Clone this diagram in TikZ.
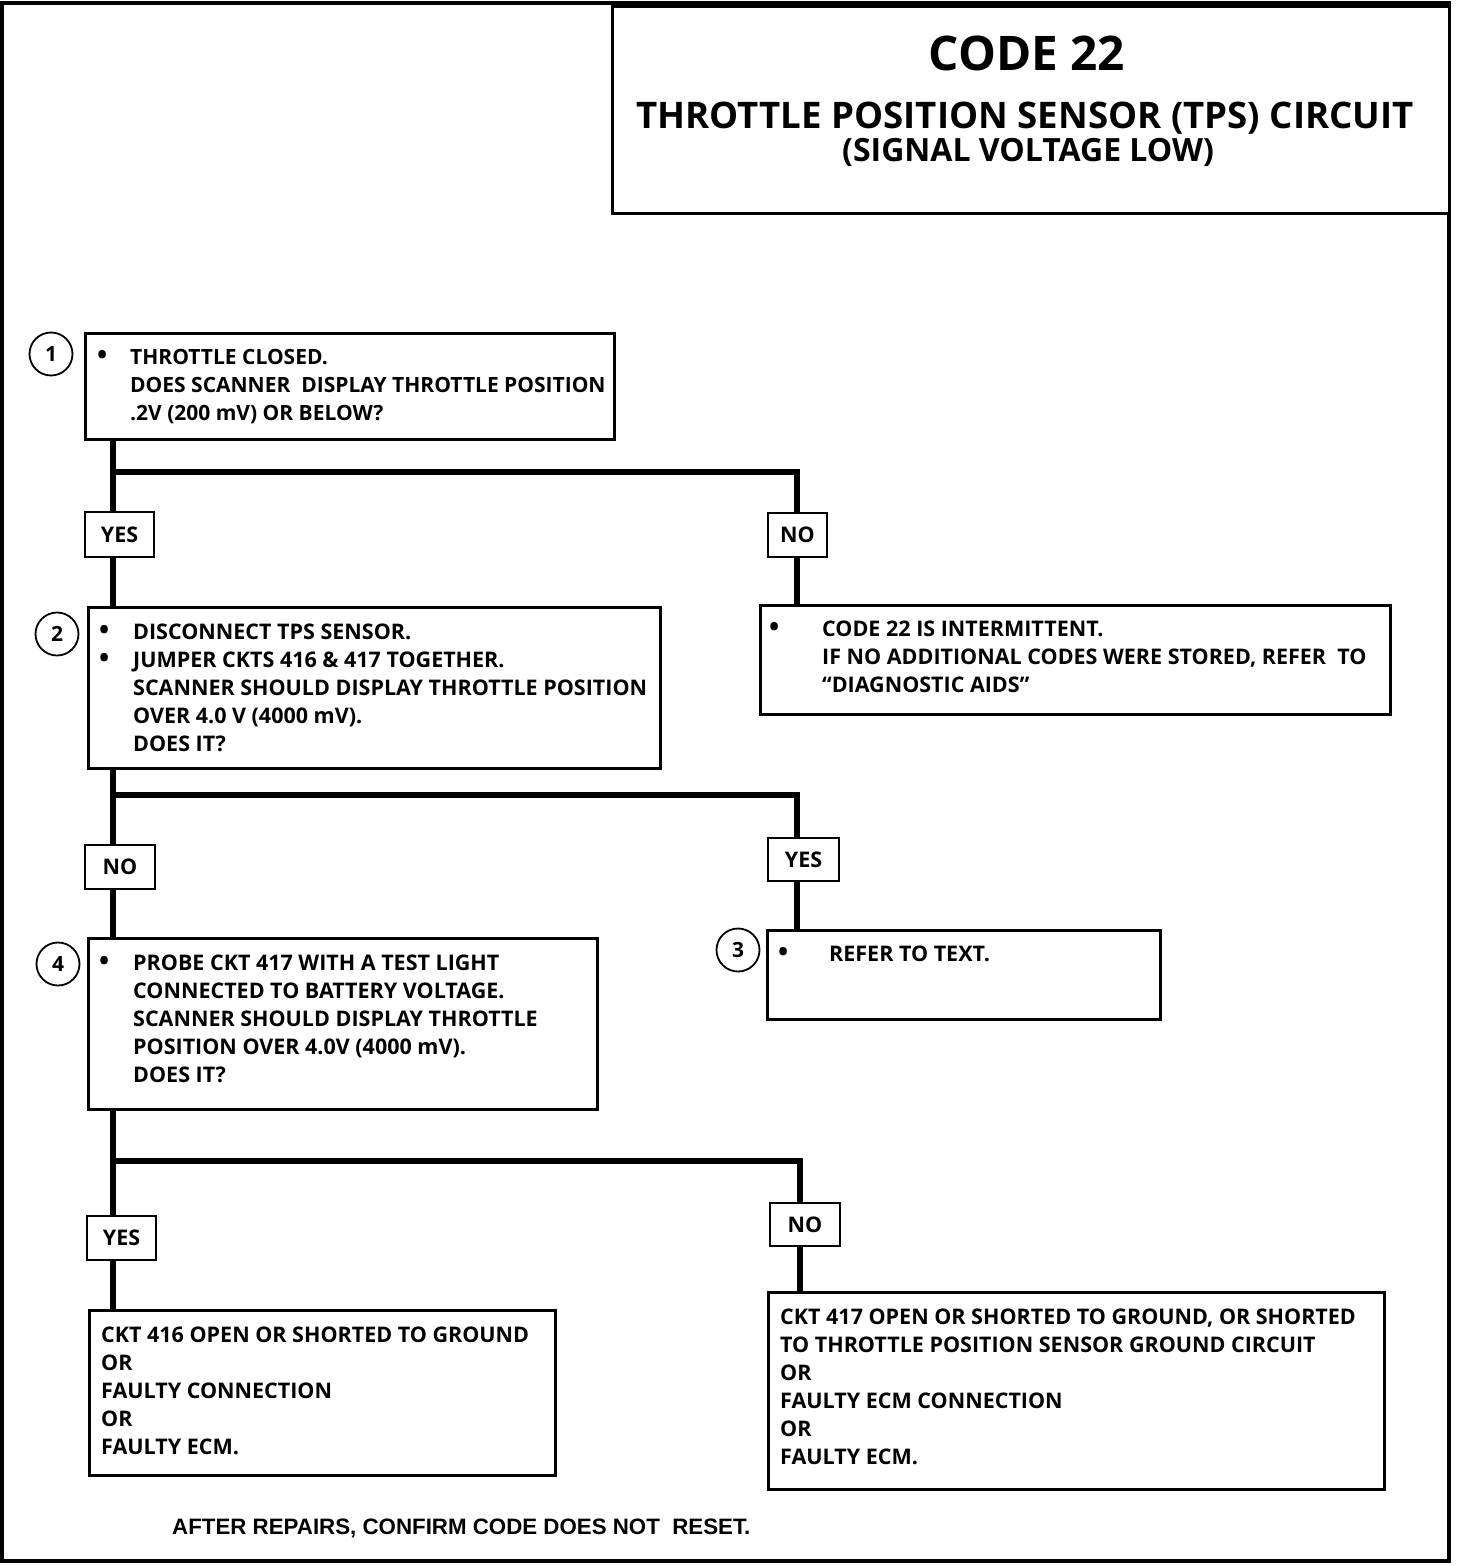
\documentclass[tikz,border=0pt]{standalone}
\usepackage{fontspec}
\setmainfont{Open Sans}
\newfontfamily\footfont{Liberation Sans}
\newcommand\bul{\raisebox{0pt}{\fontsize{27}{28}\selectfont •}}
\begin{document}
\begin{tikzpicture}[x=1pt,y=-1pt,
  box/.style={draw, line width=2pt, fill=white, inner sep=0pt, anchor=north west},
  lbl/.style={draw, line width=2pt, fill=white, inner sep=0pt, font=\bfseries\fontsize{21.5}{24}\selectfont},
  conn/.style={line width=6pt},
  num/.style={circle, draw, line width=1.8pt, minimum size=43pt, inner sep=0pt, font=\bfseries\fontsize{21}{22}\selectfont},
  txt/.style={inner sep=0pt, anchor=west, align=left, font=\bfseries\fontsize{21.5}{28}\selectfont},
  ttl/.style={inner sep=0pt, anchor=base, font=\bfseries}
]
\useasboundingbox (0,0) rectangle (1472,1566);
\fill[white] (0,0) rectangle (1472,1566);
% frame and title
\draw[line width=4pt] (2,3) rectangle (1449,1561);
\node[box, line width=2.5pt, minimum width=837pt, minimum height=207pt] (tb) at (611,5) {};
\node[ttl, font=\bfseries\fontsize{47.7}{50}\selectfont] (tcode) at (1027,70) {CODE 22};
\node[ttl, font=\bfseries\fontsize{36.6}{40}\selectfont] (ttitle) at (1025,128) {THROTTLE POSITION SENSOR (TPS) CIRCUIT};
\node[ttl, font=\bfseries\fontsize{32}{34}\selectfont] (tsub) at (1028,161) {(SIGNAL VOLTAGE LOW)};

% coordinates of branches
\coordinate (j1) at (113,472); \coordinate (k1) at (797,472);
\coordinate (j2) at (113,795); \coordinate (k2) at (797,795);
\coordinate (j3) at (113,1161); \coordinate (k3) at (800,1161);

% boxes (positions)
\node[box, minimum width=528pt, minimum height=105pt] (b1) at (85,333) {};
\node[box, minimum width=571pt, minimum height=160pt] (b2) at (88,607) {};
\node[box, minimum width=629pt, minimum height=108pt] (r1) at (760,605) {};
\node[box, minimum width=508pt, minimum height=170pt] (b4) at (88,938) {};
\node[box, minimum width=392pt, minimum height=88pt] (b3) at (767,930) {};
\node[box, minimum width=465pt, minimum height=164pt] (b5) at (89,1310) {};
\node[box, minimum width=615pt, minimum height=196pt] (b6) at (768,1292) {};

% connectors
\draw[conn] (b1.south -| j1) -- (b2.north -| j1);
\draw[conn] (j1) -- (k1) -- (r1.north -| k1);
\draw[conn] (b2.south -| j2) -- (b4.north -| j2);
\draw[conn] (j2) -- (k2) -- (b3.north -| k2);
\draw[conn] (b4.south -| j3) -- (b5.north -| j3);
\draw[conn] (j3) -- (k3) -- (b6.north -| k3);

% redraw box borders on top of connector ends
\foreach \n in {b1,b2,r1,b4,b3,b5,b6} {\draw[line width=2pt] (\n.north west) rectangle (\n.south east);}

% labels
\node[lbl, minimum width=69pt, minimum height=45pt] (yes1) at (119.5,534.5) {YES};
\node[lbl, minimum width=59pt, minimum height=44pt] (no1) at (797.5,535) {NO};
\node[lbl, minimum width=70pt, minimum height=44pt] (no2) at (120,867) {NO};
\node[lbl, minimum width=71pt, minimum height=43pt] (yes2) at (803.5,859.5) {YES};
\node[lbl, minimum width=69pt, minimum height=44pt] (yes3) at (121.5,1238) {YES};
\node[lbl, minimum width=70pt, minimum height=43pt] (no3) at (805,1224.5) {NO};

% step numbers
\node[num] (c1) at (51,354) {1};
\node[num] (c2) at (57,634) {2};
\node[num] (c3) at (738,950) {3};
\node[num] (c4) at (58,964) {4};

% texts
\node[txt, font=\bfseries\fontsize{21}{28}\selectfont] (t1) at (97,387) {\begin{tabular}{@{}p{33pt}@{}l@{}}
\bul & THROTTLE CLOSED.\\
  & DOES SCANNER\ \ DISPLAY THROTTLE POSITION\\
  & .2V (200 mV) OR BELOW?
\end{tabular}};
\node[txt] (t2) at (99,690) {\begin{tabular}{@{}p{34pt}@{}l@{}}
\bul & DISCONNECT TPS SENSOR.\\
\bul & JUMPER CKTS 416 \& 417 TOGETHER.\\
  & SCANNER SHOULD DISPLAY THROTTLE POSITION\\
  & OVER 4.0 V (4000 mV).\\
  & DOES IT?
\end{tabular}};
\node[txt] (tr1) at (769,659) {\begin{tabular}{@{}p{53pt}@{}l@{}}
\bul & CODE 22 IS INTERMITTENT.\\
  & IF NO ADDITIONAL CODES WERE STORED, REFER\ \ TO\\
  & “DIAGNOSTIC AIDS”
\end{tabular}};
\node[txt] (t3) at (778,956) {\begin{tabular}{@{}p{51pt}@{}l@{}}
\bul & REFER TO TEXT.
\end{tabular}};
\node[txt] (t4) at (99,1021) {\begin{tabular}{@{}p{34pt}@{}l@{}}
\bul & PROBE CKT 417 WITH A TEST LIGHT\\
  & CONNECTED TO BATTERY VOLTAGE.\\
  & SCANNER SHOULD DISPLAY THROTTLE\\
  & POSITION OVER 4.0V (4000 mV).\\
  & DOES IT?
\end{tabular}};
\node[txt] (t5) at (101,1393) {\begin{tabular}{@{}l@{}}
CKT 416 OPEN OR SHORTED TO GROUND\\
OR\\
FAULTY CONNECTION\\
OR\\
FAULTY ECM.
\end{tabular}};
\node[txt] (t6) at (780,1389) {\begin{tabular}{@{}l@{}}
CKT 417 OPEN OR SHORTED TO GROUND, OR SHORTED\\
TO THROTTLE POSITION SENSOR GROUND CIRCUIT\\
OR\\
FAULTY ECM CONNECTION\\
OR\\
FAULTY ECM.
\end{tabular}};
\node[inner sep=0pt, anchor=west, font=\footfont\bfseries\fontsize{22.3}{24}\selectfont] (foot) at (172,1528) {AFTER REPAIRS, CONFIRM CODE DOES NOT\ \ RESET.};
\end{tikzpicture}
\end{document}
